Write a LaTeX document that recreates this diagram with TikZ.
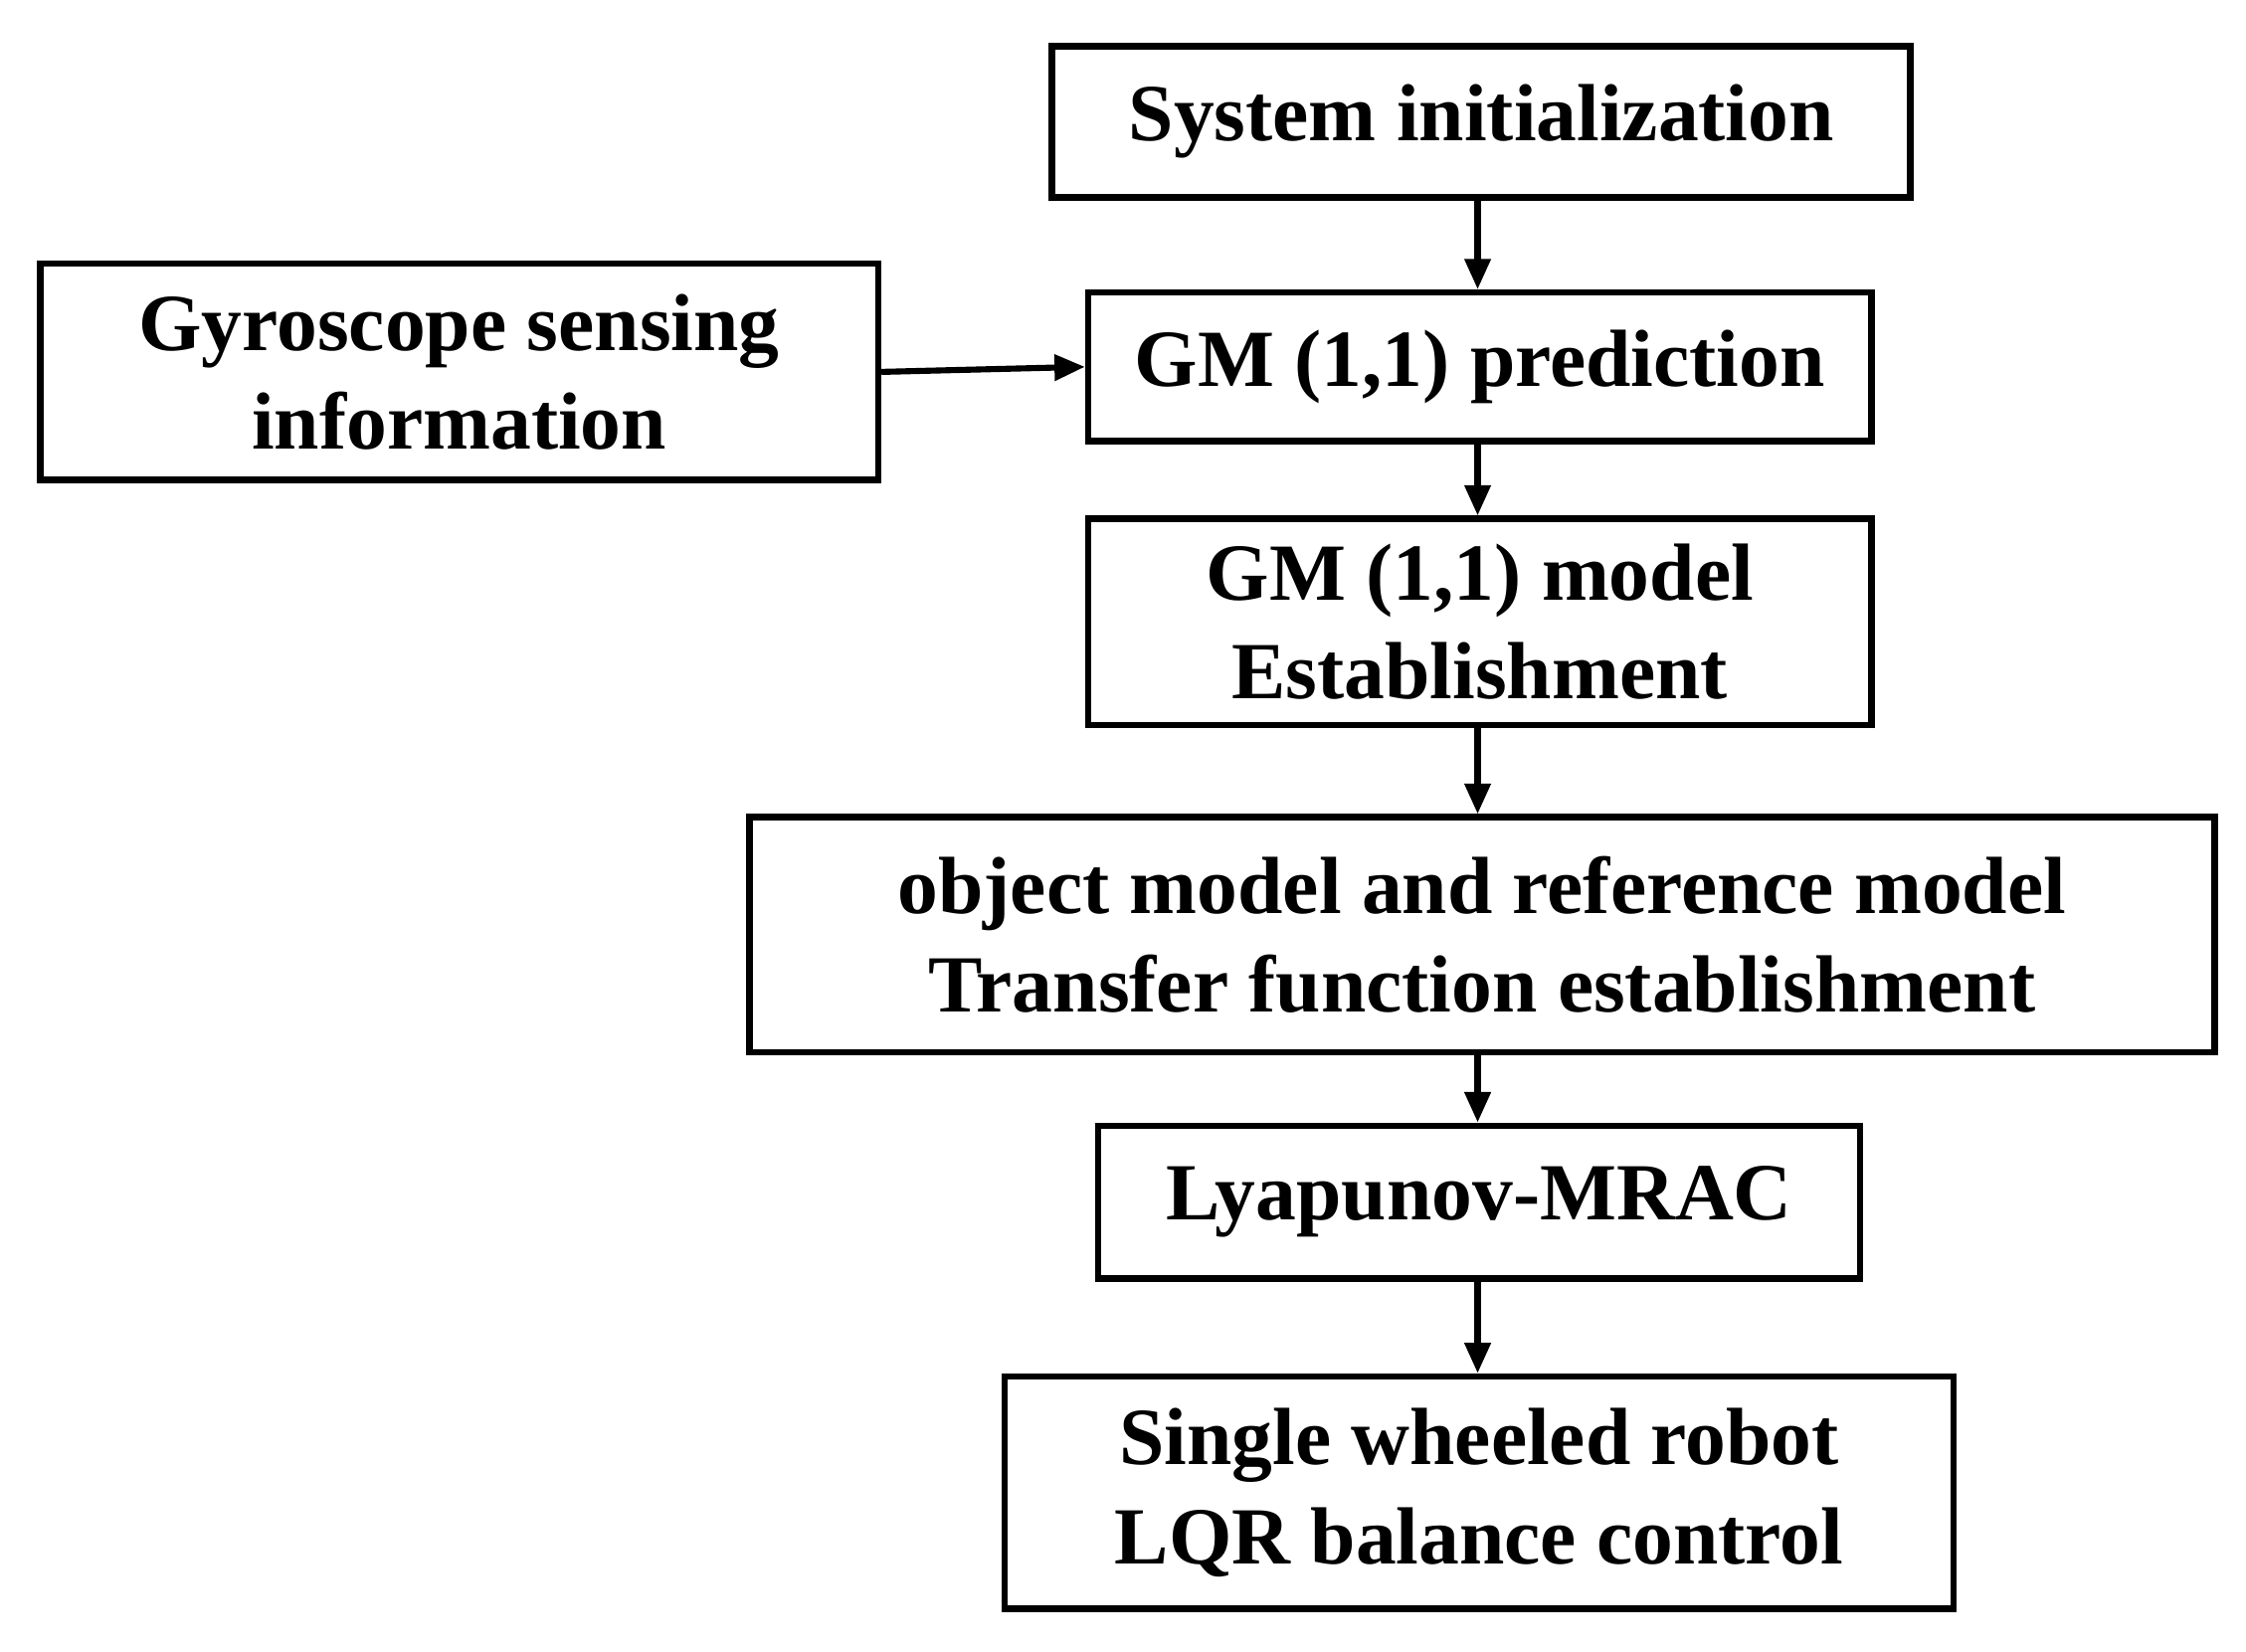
\documentclass[tikz,border=0pt]{standalone}
\usepackage{fontspec}
\setmainfont{Liberation Serif}
\usetikzlibrary{arrows.meta}
\begin{document}
\begin{tikzpicture}[x=0.01cm,y=-0.01cm,
 box/.style={draw,line width=1.3pt,align=center,font=\fontsize{16}{19.5}\selectfont\bfseries,inner sep=0pt},
 arr/.style={line width=1.2pt,-{Triangle[length=6pt,width=5pt]}}]
\useasboundingbox (0,0) rectangle (1558,1146);
\node[box,minimum width=5.95cm,minimum height=1.05cm] (sys) at (1027.5,84.5) {System initialization};
\node[box,minimum width=5.81cm,minimum height=1.50cm] (gyro) at (318.5,258) {Gyroscope sensing\\information};
\node[box,minimum width=5.43cm,minimum height=1.03cm] (pred) at (1026.5,254.5) {GM (1,1) prediction};
\node[box,minimum width=5.43cm,minimum height=1.43cm] (model) at (1026.5,431.5) {GM (1,1) model\\Establishment};
\node[box,minimum width=10.16cm,minimum height=1.63cm] (obj) at (1028,648.5) {object model and reference model\\Transfer function establishment};
\node[box,minimum width=5.28cm,minimum height=1.06cm] (lya) at (1026,834) {Lyapunov-MRAC};
\node[box,minimum width=6.58cm,minimum height=1.61cm] (swr) at (1026,1035.5) {Single wheeled robot\\LQR balance control};
\draw[arr] (sys.south -| 1025,0) -- (pred.north -| 1025,0);
\draw[arr] (gyro.east) -- (pred.west);
\draw[arr] (pred.south -| 1025,0) -- (model.north -| 1025,0);
\draw[arr] (model.south -| 1025,0) -- (obj.north -| 1025,0);
\draw[arr] (obj.south -| 1025,0) -- (lya.north -| 1025,0);
\draw[arr] (lya.south -| 1025,0) -- (swr.north -| 1025,0);
\end{tikzpicture}
\end{document}
